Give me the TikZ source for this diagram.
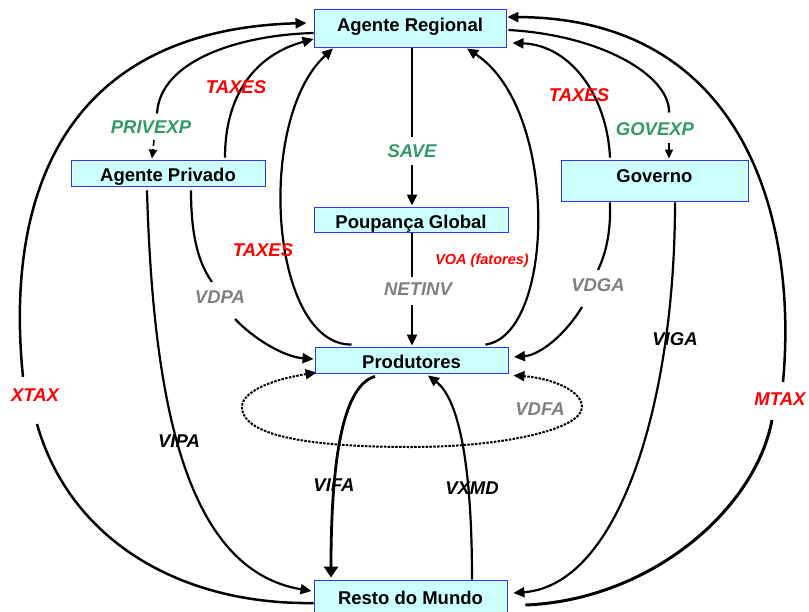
\documentclass[tikz,border=0pt]{standalone}
\usepackage{fontspec}
\setmainfont{Liberation Sans}
\usetikzlibrary{arrows.meta,calc}
\pgfdeclarelayer{back}
\pgfdeclarelayer{lines}
\pgfsetlayers{back,lines,main}
\definecolor{boxfill}{RGB}{204,255,255}
\definecolor{boxdraw}{RGB}{51,51,255}
\definecolor{lgreen}{RGB}{51,153,102}
\definecolor{lred}{RGB}{255,0,0}
\definecolor{lgray}{RGB}{128,128,128}
\begin{document}
\begin{tikzpicture}[x=1pt,y=-1pt,
  box/.style={draw=boxdraw,fill=boxfill,line width=0.9pt,inner sep=0pt,font=\fontsize{18.5}{20}\selectfont\bfseries},
  lbl/.style={inner sep=0pt,font=\fontsize{18.5}{20}\selectfont\bfseries\itshape},
  smalllbl/.style={inner sep=0pt,font=\fontsize{14.5}{16}\selectfont\bfseries\itshape},
  link/.style={line width=2.2pt,line cap=butt},
  arr/.style={-{Triangle[length=11pt,width=10pt]}},
  bigarr/.style={-{Triangle[length=11pt,width=14pt]}},
  smallarr/.style={-{Triangle[length=9pt,width=8pt]}},
  dblarr/.style={{Triangle[length=11pt,width=10pt]}-{Triangle[length=11pt,width=10pt]}}]
\begin{pgfonlayer}{back}
\fill[white] (0,0) rectangle (809,611);
\end{pgfonlayer}
\useasboundingbox (0,0) rectangle (809,611);

% boxes
\node[box,minimum width=192pt,minimum height=38pt,text depth=7pt] (ar) at (410,28) {Agente Regional};
\node[box,minimum width=194pt,minimum height=26pt,text height=17pt,text depth=0pt] (ap) at (168,173) {Agente Privado};
\node[box,minimum width=194pt,minimum height=25pt,text height=17pt,text depth=0pt] (pg) at (411,219.5) {Poupança Global};
\node[box,minimum width=187pt,minimum height=41pt,text depth=9pt] (gov) at (654.5,180.5) {Governo};
\node[box,minimum width=193pt,minimum height=26pt,text height=16.2pt,text depth=0pt] (prod) at (411.5,360) {Produtores};
\node[box,minimum width=193pt,minimum height=35pt] (rdm) at (410.5,597.5) {Resto do Mundo};

% labels
\node[lbl,text=lgreen] (lsave) at (412,151.5) {SAVE};
\node[lbl,text=lgray] (lnetinv) at (418,289) {NETINV};
\node[lbl,text=lgreen] (lprivexp) at (151,127.5) {PRIVEXP};
\node[lbl,text=lred] (ltaxa) at (236,87.5) {TAXES};
\node[lbl,text=lred] (lxtax) at (35,395) {XTAX};
\node[lbl] (lvipa) at (179,441.5) {VIPA};
\node[lbl,text=lgray] (lvdpa) at (220,297) {VDPA};
\node[lbl,text=lred] (ltaxb) at (263,250) {TAXES};
\node[smalllbl,text=lred] (lvoa) at (482,260.5) {VOA (fatores)};
\node[lbl,text=lred] (ltaxc) at (579,95.5) {TAXES};
\node[lbl,text=lgreen] (lgovexp) at (655,129.5) {GOVEXP};
\node[lbl,text=lred] (lmtax) at (780,399) {MTAX};
\node[lbl,text=lgray] (lvdga) at (598,285.5) {VDGA};
\node[lbl] (lviga) at (675,339) {VIGA};
\node[lbl] (lvifa) at (334,485.5) {VIFA};
\node[lbl] (lvxmd) at (472,488.5) {VXMD};
\node[lbl,text=lgray] (lvdfa) at (540,409) {VDFA};

\begin{pgfonlayer}{lines}
% SAVE
\draw[link] ($(ar.south)+(2,1)$) -- ($(lsave)+(0,-14.5)$);
\draw[link,arr] ($(lsave)+(0,13.5)$) -- ($(pg.north)+(1,-1)$);
% NETINV
\draw[link] ($(pg.south)+(1,1)$) -- ($(lnetinv)+(-6,-12)$);
\draw[link,arr] ($(lnetinv)+(-6,16)$) -- ($(prod.north)+(0.5,-1)$);
% PRIVEXP
\draw[link] ($(ar.west)+(0,5)$) .. controls (240,35) and (160,60) .. ($(lprivexp)+(6,-14)$);
\draw[line width=1.6pt,smallarr,dash pattern=on 6pt off 3pt] ($(lprivexp)+(3,12.5)$) -- ($(ap.north)+(-16,-1)$);
% TAXES private -> regional
\draw[link,arr] ($(ap.north)+(57,-2)$) .. controls (225,95) and (255,55) .. ($(ar.west)+(0,11)$);
% XTAX
\draw[link,line width=2.5pt] ($(rdm.west)+(0,5.5)$) .. controls (180,605) and (70,540) .. ($(lxtax)+(2,29)$);
\draw[link,line width=2.5pt,arr] ($(lxtax)+(-12,-18)$) .. controls (5,200) and (60,30) .. ($(ar.west)+(-7,-5)$);
% VIPA
\draw[link,arr] ($(ap.south)+(-21,4)$) .. controls (153,400) and (185,570) .. ($(rdm.west)+(-2,-6.5)$);
% VDPA
\draw[link] ($(ap.south)+(23,4)$) .. controls (191,240) and (200,265) .. ($(lvdpa)+(-8,-15)$);
\draw[link,arr] ($(lvdpa)+(15,22)$) .. controls (255,340) and (285,357) .. ($(prod.west)+(-1,-1)$);
% TAXES producers -> regional
\draw[link,arr] ($(prod.north)+(-60,-2)$) .. controls (270,345) and (255,120) .. ($(ar.south)+(-77,1)$);
% VOA
\draw[link,arr] ($(prod.north)+(74,-2)$) .. controls (555,335) and (560,110) .. ($(ar.south)+(57,1)$);
% TAXES government -> regional
\draw[link,arr] ($(gov.north)+(-44.5,-2)$) .. controls (607,95) and (570,45) .. ($(ar.east)+(6,15)$);
% GOVEXP
\draw[link] ($(ar.east)+(2,2)$) .. controls (600,35) and (670,75) .. ($(lgovexp)+(14,-17)$);
\draw[line width=1.6pt,smallarr] ($(lgovexp)+(14,13)$) -- ($(gov.north)+(14.5,-1)$);
% MTAX
\draw[link,line width=3pt] ($(rdm.east)+(18,7.5)$) .. controls (650,600) and (755,510) .. ($(lmtax)+(-8,21)$);
\draw[link,line width=2.5pt,arr] ($(lmtax)+(3,-17)$) .. controls (798,220) and (745,18) .. ($(ar.east)+(1,-11)$);
% VDGA
\draw[link] ($(gov.south)+(-44.5,1)$) .. controls (611,235) and (605,255) .. ($(lvdga)+(0,-15.5)$);
\draw[link,arr] ($(lvdga)+(-16,21.5)$) .. controls (565,335) and (540,355) .. ($(prod.east)+(5.5,-3)$);
% VIGA
\draw[link,arr] ($(gov.south)+(20.5,1)$) .. controls (675,400) and (620,585) .. ($(rdm.east)+(6,-4.5)$);
% VIFA
\draw[link,line width=2.8pt,bigarr] ($(prod.south)+(-36.5,3)$) .. controls (345,385) and (331,450) .. ($(rdm.north)+(-79.5,-2)$);
% VXMD
\draw[link,arr] ($(rdm.north)+(61.5,0)$) .. controls (472,470) and (460,400) .. ($(prod.south)+(16.5,2)$);
% VDFA
\draw[line width=2pt,dash pattern=on 2.5pt off 1.3pt,dblarr] ($(prod.south west)+(2,-1)$) .. controls (270,380) and (242,392) .. (242,407) .. controls (242,440) and (330,447) .. (412,447) .. controls (500,447) and (582,430) .. (582,407) .. controls (582,390) and (550,378) .. ($(prod.south east)+(5,2)$);
\end{pgfonlayer}
\end{tikzpicture}
\end{document}
